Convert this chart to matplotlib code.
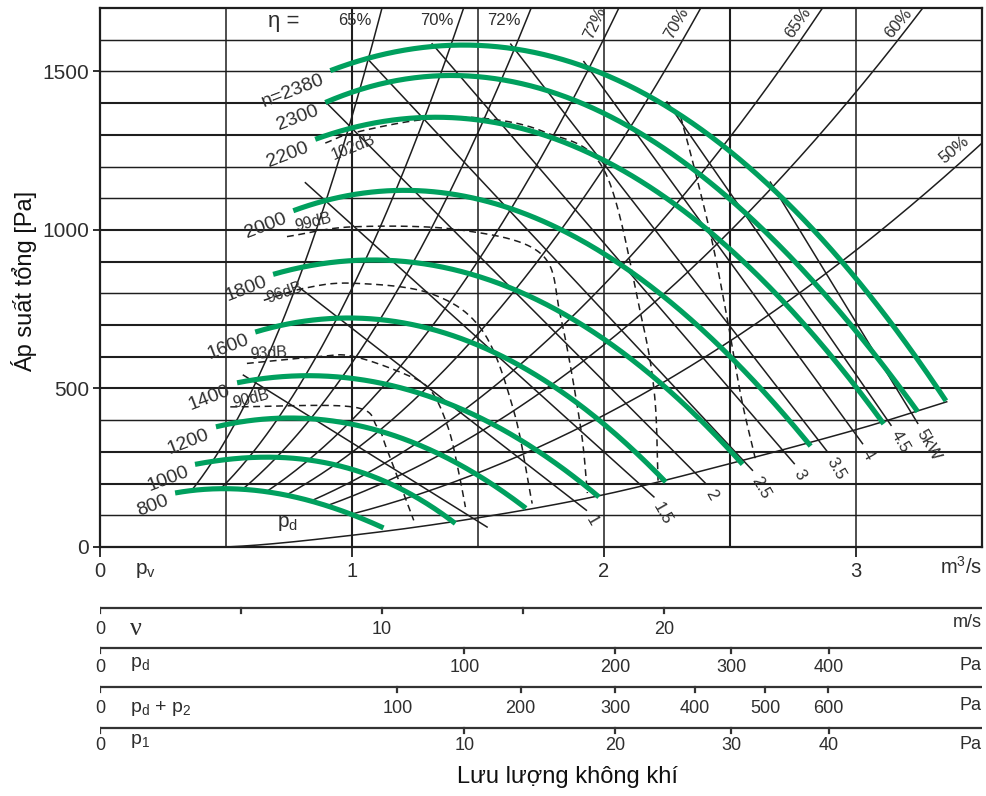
import numpy as np
import matplotlib
matplotlib.use("Agg")
import matplotlib.pyplot as plt

plt.rcParams['font.family'] = ['Liberation Sans', 'DejaVu Sans']

# ---------------- data ----------------
# fan curves (flow m3/s, total pressure Pa)
speed_labels = ['n=2380', '2300', '2200', '2000', '1800', '1600', '1400', '1200', '1000', '800']
fan_q = [
    [0.914, 1.47, 2.20, 2.80, 3.357],
    [0.894, 1.35, 2.10, 2.70, 3.245],
    [0.854, 1.29, 2.00, 2.50, 3.110],
    [0.767, 1.17, 1.80, 2.30, 2.820],
    [0.687, 1.09, 1.70, 2.15, 2.550],
    [0.616, 0.99, 1.50, 1.90, 2.245],
    [0.544, 0.83, 1.30, 1.65, 1.980],
    [0.460, 0.755, 1.20, 1.45, 1.690],
    [0.377, 0.66, 1.00, 1.20, 1.410],
    [0.298, 0.52, 0.80, 1.00, 1.125],
]
fan_p = [
    [1499, 1594, 1395, 1040, 457],
    [1401, 1489, 1322, 950, 426],
    [1284, 1360, 1212, 945, 387],
    [1060, 1126, 1010, 750, 318],
    [860, 905, 793, 566, 261],
    [678, 722, 637, 450, 205],
    [518, 540, 477, 346, 158],
    [379, 407, 342, 250, 122],
    [261, 282, 248, 178, 75],
    [170, 185, 150, 105, 59],
]

# efficiency curves (lower end, middle, upper end)
eff_labels = ['65%', '70%', '72%', '72%', '70%', '65%', '60%', '50%']
eff_q = [[0.365, 0.75, 1.119], [0.48, 1.0, 1.443], [0.57, 1.2, 1.711], [0.665, 1.4, 2.059],
         [0.747, 1.6, 2.384], [0.848, 1.9, 2.867], [0.91, 2.1, 3.265], [1.0, 2.2, 3.5]]
eff_p = [[180, 764, 1700], [185, 816, 1700], [185, 837, 1700], [177, 786, 1700],
         [167, 765, 1700], [149, 747, 1700], [133, 703, 1700], [104, 503, 1274]]
eff_rot = [0, 0, 0, 65, 60, 55, 50, 40]

# shaft power lines (kW): start and end points
power_labels = ['', '1', '1.5', '2', '2.5', '3', '3.5', '4', '4.5', '5kW']
power_q0 = [0.569, 0.795, 0.815, 0.90, 1.06, 1.318, 1.63, 1.92, 2.25, 2.66]
power_p0 = [542, 816, 1149, 1400, 1541, 1587, 1586, 1531, 1404, 1151]
power_q1 = [1.536, 1.93, 2.198, 2.404, 2.589, 2.755, 2.887, 3.026, 3.139, 3.245]
power_p1 = [63, 116, 158, 200, 242, 263, 300, 326, 384, 390]

# sound level curves (dashed)
db_labels = ['102dB', '99dB', '96dB', '93dB', '90dB', '']
db_q = [
    [0.894, 1.0, 1.27, 1.51, 1.76, 2.0, 2.145, 2.20, 2.215],
    [0.742, 1.007, 1.43, 1.748, 1.828, 1.907, 1.934],
    [0.65, 0.81, 1.0, 1.31, 1.516, 1.641, 1.715],
    [0.583, 0.861, 1.0, 1.205, 1.311, 1.38, 1.42, 1.45],
    [0.517, 1.0, 1.1, 1.14, 1.245],
    [2.304, 2.36, 2.43, 2.49, 2.545, 2.60],
]
db_p = [
    [1274, 1305, 1347, 1353, 1310, 1189, 737, 484, 200],
    [979, 1010, 1000, 926, 726, 379, 170],
    [778, 816, 832, 800, 684, 432, 137],
    [579, 600, 602, 547, 495, 380, 250, 126],
    [442, 442, 379, 305, 84],
    [1358, 1190, 960, 716, 470, 280],
]
db_offsets = [(28, -4), (26, 14), (21, 8), (22, 10), (21, 8), (0, 0)]
db_rot = [22, 14, 19, 3, 15, 0]

# dynamic pressure curve p_d
pd_q = [0, 0.5, 1.0, 1.5, 2.0, 2.5, 3.0, 3.36]
pd_p = [0, 0, 37, 92, 165, 263, 370, 458]

# auxiliary scales below the chart
duct_area = 0.1119          # m2 : v = Q / A
k_pd, k_pd2, k_p1 = 47.8, 71.8, 4.78   # p = k * Q^2
v_ticks = [0, 5, 10, 15, 20]
v_tick_labels = ['', '', '10', '', '20']
pd_ticks = [100, 200, 300, 400]
pd2_ticks = [100, 200, 300, 400, 500, 600]
p1_ticks = [10, 20, 30, 40]

# ---------------- helpers ----------------
def catmull(xs, ys, n=24):
    P = np.column_stack([np.asarray(xs, float), np.asarray(ys, float)])
    P = np.vstack([2 * P[0] - P[1], P, 2 * P[-1] - P[-2]])
    out = []
    t = np.linspace(0, 1, n, endpoint=False)[:, None]
    for i in range(1, len(P) - 2):
        p0, p1, p2, p3 = P[i - 1], P[i], P[i + 1], P[i + 2]
        seg = 0.5 * ((2 * p1) + (-p0 + p2) * t + (2 * p0 - 5 * p1 + 4 * p2 - p3) * t ** 2
                     + (-p0 + 3 * p1 - 3 * p2 + p3) * t ** 3)
        out.append(seg)
    out.append(P[-2][None, :])
    r = np.vstack(out)
    return r[:, 0], r[:, 1]

GREEN = '#00a05e'
INK = '#1e1e1e'
TXT = '#2e2e2e'

W, H = 987, 796
L, R, T, B = 100, 982, 8, 547
fig = plt.figure(figsize=(W / 100, H / 100), dpi=100)
ax = fig.add_axes([L / W, 1 - B / H, (R - L) / W, (B - T) / H])
ax.set_xlim(0, 3.5)
ax.set_ylim(0, 1700)

# grid
thick_p = {1400, 1300, 1000, 900, 700, 600, 500, 300, 200}
for g in range(100, 1700, 100):
    ax.axhline(g, color=INK, lw=1.5 if g in thick_p else 1.05, zorder=1)
thick_q = {1.0, 2.5}
for g in [0.5, 1.0, 1.5, 2.0, 2.5, 3.0]:
    ax.axvline(g, color=INK, lw=1.5 if g in thick_q else 1.1, zorder=1)

for s in ax.spines.values():
    s.set_linewidth(1.6)
    s.set_color(INK)

ax.set_xticks([0, 1, 2, 3])
ax.set_xticklabels(['0', '1', '2', '3'])
ax.set_yticks([0, 500, 1000, 1500])
ax.tick_params(axis='x', length=7, width=1.3, color=INK, pad=4, labelsize=14.5, labelcolor=TXT)
ax.tick_params(axis='y', length=5, width=1.3, color=INK, pad=3, labelsize=15, labelcolor=TXT)

# efficiency curves
for qs, ps, lab, rot in zip(eff_q, eff_p, eff_labels, eff_rot):
    c = np.polyfit(qs, ps, 2)
    qq = np.linspace(qs[0], qs[-1], 150)
    ax.plot(qq, np.polyval(c, qq), color=INK, lw=1.1, zorder=2, clip_on=True)
    off = (-27, -12) if rot == 0 else ((-28, -7) if lab == '50%' else (-24, -15))
    ax.annotate(lab, (qs[-1], ps[-1]), xytext=off, textcoords='offset pixels',
                ha='center', va='center', rotation=rot, fontsize=12, color=TXT, zorder=6)
ax.annotate('η =', (eff_q[0][-1], eff_p[0][-1]), xytext=(-98, -13), textcoords='offset pixels',
            ha='center', va='center', fontsize=16, color=TXT, zorder=6)

# power lines
for q0, p0, q1, p1, lab in zip(power_q0, power_p0, power_q1, power_p1, power_labels):
    ax.plot([q0, q1], [p0, p1], color=INK, lw=1.1, zorder=2)
    if lab:
        ax.annotate(lab, (q1, p1), xytext=(3, -7), textcoords='offset pixels', ha='left', va='center',
                    rotation=-60, rotation_mode='anchor', fontsize=12, color=TXT, zorder=6)

# dynamic pressure curve
qx, px_ = catmull(pd_q, pd_p)
ax.plot(qx, px_, color=INK, lw=1.1, zorder=2)
ax.annotate('$\\mathregular{p_d}$', (pd_q[2], pd_p[2]), xytext=(-64, 12), textcoords='offset pixels',
            ha='center', va='center', fontsize=15, color=TXT)

# dB curves
for qs, ps, lab, off, rot in zip(db_q, db_p, db_labels, db_offsets, db_rot):
    qx, py_ = catmull(qs, ps)
    ax.plot(qx, py_, color=INK, lw=1.1, dashes=(4.5, 3), zorder=3)
    if lab:
        ax.annotate(lab, (qs[0], ps[0]), xytext=off, textcoords='offset pixels', ha='center',
                    va='center', rotation=rot, fontsize=11.5, color=TXT, zorder=6)

# fan curves
for qs, ps, lab in zip(fan_q, fan_p, speed_labels):
    c = np.polyfit(qs, ps, 3)
    qq = np.linspace(qs[0], qs[-1], 200)
    ax.plot(qq, np.polyval(c, qq), color=GREEN, lw=3.7, solid_capstyle='butt', zorder=4)
    ax.annotate(lab, (qs[0], ps[0]), xytext=(-7, -7), textcoords='offset pixels', ha='right',
                va='center', rotation=21, rotation_mode='anchor', fontsize=14, color=TXT, zorder=6)

# ---------------- lower scales ----------------
axb = fig.add_axes([L / W, 0, (R - L) / W, (H - B) / H])
axb.set_xlim(0, 3.5)
axb.set_ylim(H, B)
axb.axis('off')

axb.text(35 / 251.7, 571, '$\\mathregular{p_v}$', ha='left', va='center', fontsize=15, color=TXT)
axb.text(3.5, 567, '$\\mathregular{m^3/s}$', ha='right', va='center', fontsize=14.5, color=TXT)

def scale_row(y, qpos, labels, ylab, name, unit, unit_dy, name_font=None, name_size=14):
    axb.plot([0, 3.5], [y, y], color='#333', lw=1.6, solid_capstyle='butt')
    axb.plot([0, 0], [y, y + 5], color='#333', lw=1.6)
    for q, lab in zip(qpos, labels):
        axb.plot([q, q], [y, y + 5], color='#333', lw=1.6)
        if lab:
            axb.text(q, ylab, lab, ha='center', va='center', fontsize=13, color=TXT)
    axb.text(0, ylab, '0', ha='center', va='center', fontsize=13, color=TXT)
    kw = {'family': name_font} if name_font else {}
    axb.text(30 / 251.7, ylab + name[1], name[0], ha='left', va='center', fontsize=name_size,
             color=TXT, **kw)
    axb.text(3.5, ylab + unit_dy, unit, ha='right', va='center', fontsize=13, color=TXT)

scale_row(608, [v * duct_area for v in v_ticks[1:]], v_tick_labels[1:], 630, ('ν', -1), 'm/s', -7,
          name_font=['Liberation Serif', 'DejaVu Serif'], name_size=19)
scale_row(648, [np.sqrt(p / k_pd) for p in pd_ticks], [str(p) for p in pd_ticks], 668,
          ('$\\mathregular{p_d}$', -4), 'Pa', -2)
scale_row(687, [np.sqrt(p / k_pd2) for p in pd2_ticks], [str(p) for p in pd2_ticks], 709,
          ('$\\mathregular{p_d}$ + $\\mathregular{p_2}$', 0), 'Pa', -3)
scale_row(728, [np.sqrt(p / k_p1) for p in p1_ticks], [str(p) for p in p1_ticks], 746,
          ('$\\mathregular{p_1}$', -5), 'Pa', -1)

fig.text(567 / W, 1 - 777 / H, 'Lưu lượng không khí', ha='center', va='center', fontsize=17, color='#111')
fig.text(24 / W, 1 - 281 / H, 'Áp suất tổng [Pa]', ha='center', va='center', rotation=90,
         fontsize=17, color='#111')

fig.savefig('out.png', dpi=100)
